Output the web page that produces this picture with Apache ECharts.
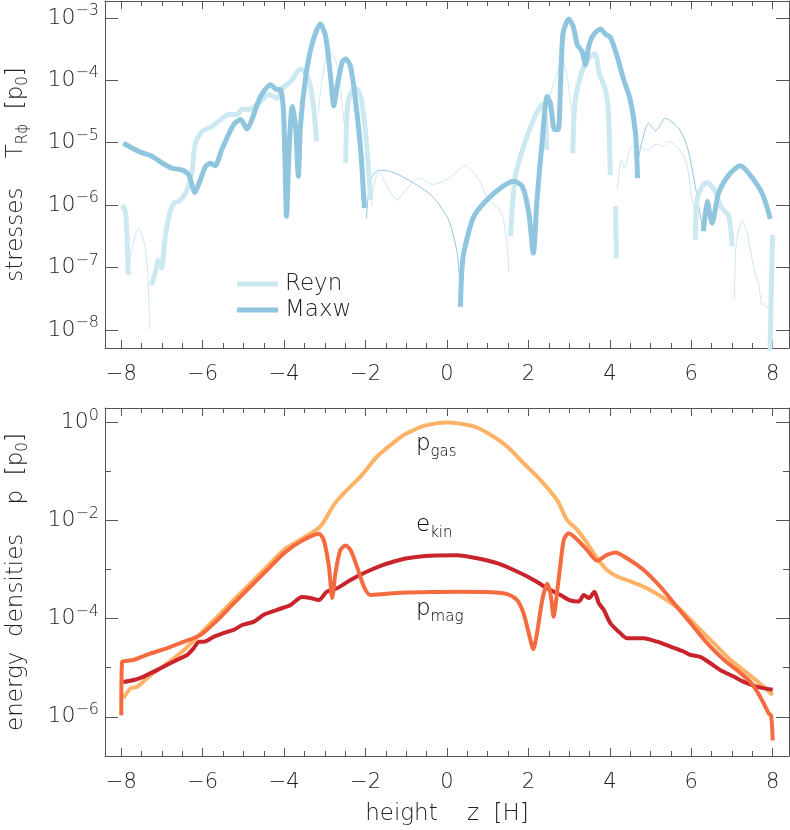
<!DOCTYPE html>
<html>
<head>
<meta charset="utf-8">
<script src="https://cdn.jsdelivr.net/npm/echarts@6/dist/echarts.min.js"></script>
<style>
  html, body { margin: 0; padding: 0; background: #fff; }
  #chart { width: 790px; height: 830px; }
</style>
</head>
<body>
<div id="chart"></div>
<script>
// values: [z (H), log10(value / p0)]
// stresses: thick = positive part, thin = negative part (absolute value)
const reynPos = [
  [[-7.98, -6.00], [-7.89, -6.13], [-7.83, -7.12]],
  [[-7.26, -7.28], [-7.16, -7.07], [-7.09, -6.88], [-7.01, -7.01], [-6.93, -6.56], [-6.83, -6.18],
   [-6.71, -5.97], [-6.59, -5.94], [-6.42, -5.81], [-6.27, -5.49], [-6.18, -5.01], [-6.01, -4.82],
   [-5.77, -4.74], [-5.56, -4.63], [-5.36, -4.55], [-5.15, -4.55], [-5.03, -4.46], [-4.87, -4.47],
   [-4.62, -4.37], [-4.38, -4.23], [-4.17, -4.29], [-4.05, -4.13], [-3.84, -4.02], [-3.60, -3.82],
   [-3.43, -3.94], [-3.31, -4.26], [-3.20, -4.98]],
  [[-2.49, -5.33], [-2.45, -4.47], [-2.37, -4.21], [-2.25, -4.13], [-2.12, -4.26], [-2.00, -4.85],
   [-1.92, -5.49], [-1.88, -5.92]],
  [[1.56, -6.50], [1.68, -5.54], [1.93, -4.96], [2.18, -4.55], [2.34, -4.39], [2.42, -4.63], [2.45, -5.12]],
  [[3.09, -5.17], [3.14, -4.37], [3.28, -3.94], [3.45, -3.67], [3.63, -3.57], [3.74, -3.89],
   [3.89, -4.15], [3.97, -4.58], [4.01, -5.52]],
  [[4.14, -6.02], [4.16, -6.85]],
  [[6.10, -6.55], [6.14, -5.92], [6.27, -5.70], [6.39, -5.64], [6.59, -5.78], [6.72, -6.02],
   [6.92, -6.18], [7.00, -6.66]],
  [[7.93, -8.50], [7.97, -7.20], [8.00, -6.48]]
];
const reynNeg = [
  [[-7.82, -7.00], [-7.69, -6.56], [-7.57, -6.37], [-7.45, -6.56], [-7.36, -6.99], [-7.30, -8.00]],
  [[-3.16, -4.53], [-3.07, -3.99], [-2.90, -3.51], [-2.74, -3.67], [-2.62, -4.10], [-2.53, -4.69]],
  [[-1.85, -6.02], [-1.80, -5.70], [-1.68, -5.46], [-1.51, -5.65], [-1.22, -5.92], [-1.02, -5.76],
   [-0.67, -5.57], [-0.35, -5.67], [0.04, -5.57], [0.45, -5.37], [0.78, -5.60], [1.02, -5.92],
   [1.27, -6.05], [1.39, -6.24], [1.48, -6.66], [1.52, -7.07]],
  [[2.51, -4.26], [2.66, -3.99], [2.83, -3.67], [2.95, -3.94], [3.06, -4.53]],
  [[4.18, -5.75], [4.20, -5.65], [4.28, -5.28], [4.36, -5.41], [4.53, -5.06], [4.70, -5.05],
   [4.91, -5.12], [5.16, -5.02], [5.28, -5.06], [5.44, -4.98], [5.77, -5.17], [5.90, -5.38],
   [6.02, -5.92], [6.10, -6.13]],
  [[7.06, -7.52], [7.10, -6.66], [7.25, -6.24], [7.37, -6.45], [7.53, -6.99], [7.65, -7.25],
   [7.74, -7.60], [7.80, -7.58], [7.86, -7.65]]
];
const maxwPos = [
  [[-7.95, -5.01], [-7.57, -5.14], [-7.24, -5.22], [-6.99, -5.33], [-6.75, -5.41], [-6.50, -5.44],
   [-6.34, -5.52], [-6.19, -5.80], [-6.09, -5.65], [-5.93, -5.38], [-5.81, -5.33], [-5.70, -5.37],
   [-5.52, -5.09], [-5.24, -4.71], [-5.07, -4.63], [-4.91, -4.78], [-4.78, -4.61], [-4.58, -4.26],
   [-4.33, -4.07], [-4.21, -4.14], [-4.09, -4.15], [-4.01, -4.58], [-3.94, -6.18], [-3.88, -5.12],
   [-3.80, -4.42], [-3.72, -4.74], [-3.65, -5.54], [-3.60, -4.74], [-3.47, -3.94], [-3.31, -3.41],
   [-3.11, -3.10], [-2.98, -3.30], [-2.86, -3.94], [-2.78, -4.41], [-2.70, -4.10], [-2.57, -3.70],
   [-2.49, -3.66], [-2.37, -3.78], [-2.25, -4.31], [-2.12, -5.12], [-2.03, -6.05]],
  [[0.33, -7.63], [0.36, -7.10], [0.41, -6.77], [0.66, -6.18], [1.07, -5.86], [1.64, -5.62],
   [1.85, -5.70], [2.01, -6.13], [2.12, -6.77], [2.21, -5.92], [2.34, -4.96], [2.46, -4.26],
   [2.54, -4.37], [2.64, -4.79], [2.73, -4.79], [2.79, -4.05], [2.85, -3.25], [2.99, -3.02],
   [3.10, -3.14], [3.20, -3.43], [3.32, -3.54], [3.40, -3.75], [3.48, -3.46], [3.60, -3.27],
   [3.77, -3.18], [3.89, -3.26], [4.01, -3.31], [4.18, -3.62], [4.34, -3.99], [4.50, -4.31],
   [4.63, -4.85], [4.68, -5.57]],
  [[6.30, -6.42], [6.39, -5.94], [6.51, -6.29], [6.67, -5.81], [6.92, -5.52], [7.20, -5.37],
   [7.41, -5.49], [7.74, -5.81], [7.94, -6.22]]
];
const maxwNeg = [
  [[-1.98, -6.21], [-1.88, -5.60], [-1.68, -5.44], [-1.39, -5.46], [-0.94, -5.60], [-0.36, -5.86],
   [0.04, -6.24], [0.25, -6.77], [0.31, -7.20]],
  [[4.71, -5.22], [4.95, -4.69], [5.13, -4.81], [5.36, -4.61], [5.69, -4.77], [5.90, -5.06],
   [6.10, -5.70], [6.28, -6.40]]
];

// energy densities
const pGas = [
  [-7.95, -5.62], [-7.77, -5.42], [-7.61, -5.39], [-7.28, -5.15], [-6.87, -4.91], [-6.46, -4.64],
  [-6.05, -4.30], [-5.64, -3.96], [-5.24, -3.62], [-4.83, -3.28], [-4.42, -2.94], [-4.01, -2.60],
  [-3.60, -2.39], [-3.11, -2.12], [-2.78, -1.68], [-2.53, -1.44], [-2.12, -1.10], [-1.71, -0.69],
  [-1.14, -0.30], [-0.98, -0.22], [-0.57, -0.07], [0.00, 0.00], [0.66, -0.08], [1.07, -0.25],
  [1.48, -0.49], [1.88, -0.83], [2.29, -1.17], [2.70, -1.58], [2.95, -1.99], [3.20, -2.19],
  [3.44, -2.46], [3.69, -2.77], [3.93, -3.01], [4.18, -3.14], [4.51, -3.24], [4.91, -3.38],
  [5.32, -3.58], [5.73, -3.82], [6.14, -4.16], [6.55, -4.50], [6.96, -4.84], [7.37, -5.11],
  [7.78, -5.39], [8.00, -5.56]
];
const eKin = [
  [-7.95, -5.29], [-7.69, -5.25], [-7.45, -5.18], [-7.20, -5.08], [-6.87, -4.94], [-6.63, -4.84],
  [-6.38, -4.74], [-6.22, -4.60], [-6.09, -4.47], [-5.97, -4.47], [-5.73, -4.37], [-5.40, -4.27],
  [-5.24, -4.23], [-5.03, -4.13], [-4.74, -4.06], [-4.50, -3.92], [-4.17, -3.82], [-3.84, -3.72],
  [-3.56, -3.56], [-3.36, -3.58], [-3.15, -3.62], [-2.95, -3.45], [-2.70, -3.38], [-2.37, -3.21],
  [-1.96, -3.04], [-1.55, -2.90], [-1.14, -2.80], [-0.98, -2.77], [-0.41, -2.72], [0.25, -2.71],
  [0.74, -2.77], [1.23, -2.87], [1.72, -3.04], [2.13, -3.21], [2.46, -3.38], [2.79, -3.52],
  [3.03, -3.63], [3.24, -3.65], [3.36, -3.52], [3.49, -3.58], [3.62, -3.45], [3.73, -3.69],
  [3.85, -3.82], [4.01, -4.09], [4.26, -4.30], [4.42, -4.40], [4.83, -4.40], [5.16, -4.47],
  [5.49, -4.57], [5.81, -4.67], [5.98, -4.74], [6.22, -4.78], [6.47, -4.91], [6.72, -5.05],
  [7.04, -5.18], [7.29, -5.29], [7.62, -5.39], [8.00, -5.45]
];
const pMag = [
  [-8.00, -5.97], [-7.98, -4.88], [-7.85, -4.86], [-7.69, -4.84], [-7.28, -4.71], [-6.87, -4.60],
  [-6.46, -4.47], [-6.05, -4.33], [-5.64, -4.03], [-5.24, -3.69], [-4.83, -3.35], [-4.42, -3.01],
  [-4.01, -2.67], [-3.60, -2.43], [-3.15, -2.27], [-3.03, -2.39], [-2.90, -2.94], [-2.82, -3.58],
  [-2.74, -3.07], [-2.62, -2.60], [-2.49, -2.51], [-2.37, -2.60], [-2.21, -2.94], [-2.04, -3.35],
  [-1.88, -3.52], [-1.55, -3.50], [-1.14, -3.47], [-0.57, -3.46], [0.25, -3.45], [1.07, -3.46],
  [1.48, -3.50], [1.72, -3.62], [1.88, -3.89], [2.01, -4.30], [2.12, -4.62], [2.21, -4.30],
  [2.34, -3.62], [2.46, -3.29], [2.54, -3.48], [2.62, -3.96], [2.70, -3.48], [2.79, -2.87],
  [2.87, -2.39], [2.99, -2.26], [3.20, -2.39], [3.44, -2.60], [3.69, -2.82], [3.93, -2.70],
  [4.14, -2.65], [4.42, -2.77], [4.83, -3.01], [5.24, -3.35], [5.65, -3.76], [5.98, -4.09],
  [6.39, -4.50], [6.80, -4.84], [7.21, -5.11], [7.45, -5.29], [7.62, -5.49], [7.78, -5.73],
  [7.90, -5.93], [7.96, -5.97], [8.00, -6.48]
];

const FONT = 'DejaVu Sans';
const WEIGHT = 200;
const AXIS = '#555';
const TEXT = '#222';

// segments joined with a gap point so one series draws all of them
function joinSegments(segs) {
  const out = [];
  segs.forEach((s, i) => {
    if (i > 0) out.push([NaN, NaN]);
    s.forEach(p => out.push(p));
  });
  return out;
}

const minus = '\u2212';
const powLabel = v => {
  const e = Math.round(v);
  return '{b|10}{s|' + (e < 0 ? minus + (-e) : e) + '}';
};
const powRich = {
  b: { fontSize: 22, fontFamily: FONT, fontWeight: WEIGHT, color: TEXT, lineHeight: 30, verticalAlign: 'middle' },
  s: { fontSize: 16, fontFamily: FONT, fontWeight: WEIGHT, color: TEXT, lineHeight: 15, verticalAlign: 'top' }
};
const nameRich = {
  m: { fontSize: 23, fontFamily: FONT, fontWeight: WEIGHT, color: TEXT, lineHeight: 30, verticalAlign: 'middle' },
  sub: { fontSize: 15, fontFamily: FONT, fontWeight: WEIGHT, color: TEXT, lineHeight: 15, verticalAlign: 'bottom' }
};

function xAxisFor(gridIndex, pos, withLabels) {
  return {
    type: 'value', gridIndex, position: pos, min: -8.4, max: 8.4, splitNumber: 8,
    axisLine: { show: true, onZero: false, lineStyle: { color: AXIS, width: 1 } },
    axisTick: { show: true, inside: true, length: 8, lineStyle: { color: AXIS } },
    minorTick: { show: true, splitNumber: 4, length: 5, lineStyle: { color: AXIS } },
    splitLine: { show: false },
    axisLabel: {
      show: withLabels, margin: 16, showMinLabel: false, showMaxLabel: false,
      fontSize: 21, fontFamily: FONT, fontWeight: WEIGHT, color: TEXT,
      formatter: v => (v < 0 ? minus + (-v) : String(v))
    }
  };
}

function yAxisFor(gridIndex, pos, min, max, splitNumber, withLabels, minor) {
  return {
    type: 'value', gridIndex, position: pos, min, max, splitNumber,
    axisLine: { show: true, onZero: false, lineStyle: { color: AXIS, width: 1 } },
    axisTick: { show: true, inside: true, length: 13, lineStyle: { color: AXIS } },
    minorTick: { show: minor, splitNumber: 2, length: 6, lineStyle: { color: AXIS } },
    splitLine: { show: false },
    axisLabel: {
      show: withLabels, margin: 6, showMinLabel: false, showMaxLabel: false,
      formatter: powLabel, rich: powRich
    }
  };
}

const xAxes = [
  xAxisFor(0, 'bottom', true),
  xAxisFor(0, 'top', false),
  Object.assign(xAxisFor(1, 'bottom', true), {
    name: '{m|height    z  [H]}', nameLocation: 'middle', nameGap: 43,
    nameTextStyle: { rich: nameRich }
  }),
  xAxisFor(1, 'top', false)
];
const yAxes = [
  Object.assign(yAxisFor(0, 'left', -8.29, -2.73, 5, true, false), {
    name: '{m|stresses    T}{sub|Rϕ}{m|  [p}{sub|0}{m|]}', nameLocation: 'middle', nameGap: 74,
    nameTextStyle: { rich: nameRich }
  }),
  yAxisFor(0, 'right', -8.29, -2.73, 5, false, false),
  Object.assign(yAxisFor(1, 'left', -6.80, 0.294, 4, true, true), {
    name: '{m|energy  densities    p  [p}{sub|0}{m|]}', nameLocation: 'middle', nameGap: 74,
    nameTextStyle: { rich: nameRich }
  }),
  yAxisFor(1, 'right', -6.80, 0.294, 4, false, true)
];

function line(name, data, color, width, xi, yi) {
  return {
    name, type: 'line', data, xAxisIndex: xi, yAxisIndex: yi,
    showSymbol: false, symbol: 'none', smooth: 0.25, connectNulls: false,
    lineStyle: { color, width, cap: 'butt', join: 'round' },
    itemStyle: { color },
    emphasis: { disabled: true }
  };
}

const REYN = '#cce9f1';
const MAXW = '#8fc5de';

const option = {
  animation: false,
  backgroundColor: '#fff',
  grid: [
    { left: 105, right: 1, top: 1, height: 347, containLabel: false, outerBoundsMode: 'none' },
    { left: 105, right: 1, top: 408, height: 348, containLabel: false, outerBoundsMode: 'none' }
  ],
  xAxis: xAxes,
  yAxis: yAxes,
  legend: {
    data: ['Reyn', 'Maxw'], orient: 'vertical', left: 232, top: 267,
    icon: 'rect', itemWidth: 41, itemHeight: 5, itemGap: 2,
    textStyle: { fontSize: 23, fontFamily: FONT, fontWeight: WEIGHT, color: TEXT, lineHeight: 24, padding: [0, 0, 0, 2] },
    selectedMode: false
  },
  graphic: [
    { type: 'text', left: 416, top: 433,
      style: { text: '{m|p}{sub|gas}', rich: nameRich } },
    { type: 'text', left: 416, top: 514,
      style: { text: '{m|e}{sub|kin}', rich: nameRich } },
    { type: 'text', left: 416, top: 598,
      style: { text: '{m|p}{sub|mag}', rich: nameRich } }
  ],
  series: [
    line('Reyn', joinSegments(reynNeg), REYN, 1, 0, 0),
    line('Maxw', joinSegments(maxwNeg), MAXW, 1, 0, 0),
    line('Reyn', joinSegments(reynPos), REYN, 5, 0, 0),
    line('Maxw', joinSegments(maxwPos), MAXW, 5, 0, 0),
    line('pgas', pGas, '#fdb265', 4, 2, 2),
    line('ekin', eKin, '#c9232b', 4, 2, 2),
    line('pmag', pMag, '#f46b40', 4, 2, 2)
  ]
};

const chart = echarts.init(document.getElementById('chart'), null, { renderer: 'canvas' });
chart.setOption(option);
</script>
</body>
</html>
